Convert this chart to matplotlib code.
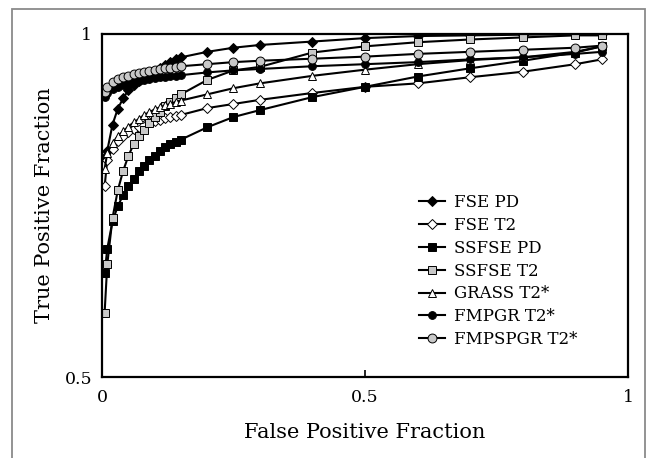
import matplotlib
matplotlib.use("Agg")
import matplotlib.pyplot as plt
from matplotlib.patches import Rectangle

fpf = [0.005, 0.01, 0.02, 0.03, 0.04, 0.05, 0.06, 0.07, 0.08, 0.09, 0.10,
       0.11, 0.12, 0.13, 0.14, 0.15, 0.2, 0.25, 0.3, 0.4, 0.5, 0.6, 0.7,
       0.8, 0.9, 0.95]

fse_pd = [0.820, 0.830, 0.868, 0.891, 0.906, 0.918, 0.925, 0.931, 0.937,
          0.942, 0.946, 0.950, 0.955, 0.959, 0.963, 0.966, 0.974, 0.980,
          0.984, 0.989, 0.994, 0.997, 0.998, 0.999, 1.000, 1.000]
fse_t2 = [0.778, 0.816, 0.833, 0.844, 0.851, 0.857, 0.861, 0.865, 0.868,
          0.871, 0.873, 0.875, 0.877, 0.879, 0.880, 0.882, 0.892, 0.898,
          0.904, 0.914, 0.923, 0.928, 0.937, 0.945, 0.956, 0.963]
ssfse_pd = [0.651, 0.687, 0.727, 0.749, 0.765, 0.778, 0.789, 0.800, 0.808,
            0.816, 0.822, 0.829, 0.835, 0.839, 0.842, 0.846, 0.864, 0.879,
            0.889, 0.908, 0.923, 0.938, 0.950, 0.961, 0.973, 0.982]
ssfse_t2 = [0.594, 0.664, 0.732, 0.772, 0.800, 0.822, 0.839, 0.851, 0.860,
            0.870, 0.879, 0.886, 0.895, 0.901, 0.906, 0.912, 0.933, 0.947,
            0.952, 0.973, 0.982, 0.988, 0.992, 0.995, 0.998, 0.998]
grass_t2 = [0.803, 0.827, 0.841, 0.851, 0.858, 0.865, 0.871, 0.876, 0.882,
            0.886, 0.890, 0.893, 0.896, 0.898, 0.901, 0.903, 0.912, 0.921,
            0.928, 0.939, 0.948, 0.956, 0.962, 0.966, 0.974, 0.982]
fmpgr_t2 = [0.908, 0.914, 0.920, 0.923, 0.926, 0.928, 0.931, 0.932, 0.933,
            0.935, 0.936, 0.937, 0.938, 0.939, 0.939, 0.940, 0.944, 0.947,
            0.949, 0.953, 0.956, 0.959, 0.963, 0.966, 0.971, 0.974]
fmpspgr_t2 = [0.915, 0.923, 0.930, 0.934, 0.937, 0.939, 0.942, 0.943, 0.944,
              0.946, 0.947, 0.949, 0.950, 0.951, 0.952, 0.953, 0.956, 0.959,
              0.961, 0.964, 0.967, 0.971, 0.974, 0.977, 0.980, 0.983]

labels = ["FSE PD", "FSE T2", "SSFSE PD", "SSFSE T2", "GRASS T2*",
          "FMPGR T2*", "FMPSPGR T2*"]
series = [fse_pd, fse_t2, ssfse_pd, ssfse_t2, grass_t2, fmpgr_t2, fmpspgr_t2]

GRAY = "#c8c8c8"
styles = [
    dict(marker="D", mfc="black", ms=5.0),
    dict(marker="D", mfc="white", ms=4.6),
    dict(marker="s", mfc="black", ms=5.2),
    dict(marker="s", mfc=GRAY, ms=5.8),
    dict(marker="^", mfc="white", ms=5.2),
    dict(marker="o", mfc="black", ms=5.6),
    dict(marker="o", mfc=GRAY, ms=6.4),
]

plt.rcParams["font.family"] = ["DejaVu Serif"]

fig = plt.figure(figsize=(6.46, 4.58), dpi=100)
fig.patches.append(Rectangle((12 / 646, -0.05), 633 / 646, 1.05 - 9 / 458,
                             transform=fig.transFigure, fill=False,
                             edgecolor="#8a8a8a", linewidth=1.3))
ax = fig.add_axes([102 / 646, 1 - 377 / 458, 526 / 646, 343 / 458])

for y, lab, st in zip(series, labels, styles):
    ax.plot(fpf, y, color="black", linewidth=1.5, marker=st["marker"],
            markerfacecolor=st["mfc"], markeredgecolor="black",
            markeredgewidth=0.7, markersize=st["ms"], label=lab)

ax.set_xlim(0, 1)
ax.set_ylim(0.5, 1)
ax.set_xticks([0, 0.5, 1])
ax.set_xticklabels(["0", "0.5", "1"])
ax.set_yticks([0.5, 1])
ax.set_yticklabels(["0.5", "1"])
ax.tick_params(axis="x", direction="in", length=5, width=1.2,
               labelsize=12.5, pad=9)
ax.tick_params(axis="y", direction="in", length=5, width=1.2,
               labelsize=12.5, pad=7)
for s in ax.spines.values():
    s.set_linewidth(1.6)

ax.set_xlabel("False Positive Fraction", fontsize=15, labelpad=12)
ax.set_ylabel("True Positive Fraction", fontsize=15, labelpad=8)

leg = ax.legend(loc="lower right", bbox_to_anchor=(0.916, 0.065),
                frameon=False, fontsize=12, handlelength=1.6,
                handletextpad=0.5, labelspacing=0.35, borderaxespad=0)

fig.savefig("out.png", dpi=100)
